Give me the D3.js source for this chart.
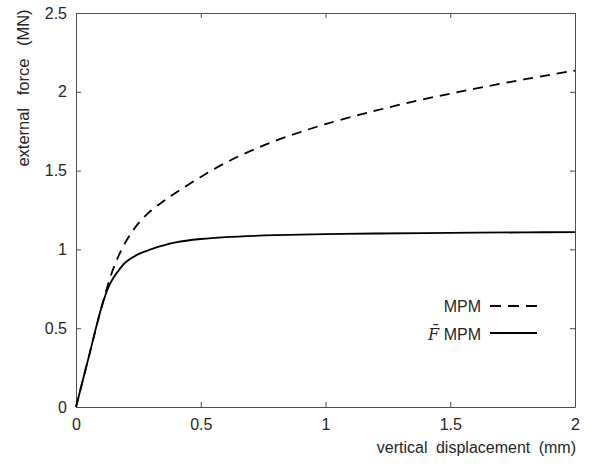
<!DOCTYPE html>
<html>
<head>
<meta charset="utf-8">
<script src="https://cdn.jsdelivr.net/npm/d3@7"></script>
<style>
  body { margin: 0; background: #fff; }
  text { font-family: "Liberation Sans", Arial, sans-serif; fill: #262626; }
</style>
</head>
<body>
<div id="chart-area"></div>
<script>
// MPM (dashed)
var mpmX = [0, 0.05, 0.1, 0.15, 0.2, 0.25, 0.3, 0.35, 0.4, 0.5, 0.6, 0.7, 0.8, 0.9, 1.0, 1.2, 1.4, 1.6, 1.8, 2.0];
var mpmY = [0, 0.31, 0.62, 0.88, 1.05, 1.165, 1.245, 1.305, 1.36, 1.46, 1.55, 1.625, 1.69, 1.745, 1.795, 1.88, 1.955, 2.02, 2.08, 2.135];

// F-bar MPM (solid)
var fbarX = [0, 0.05, 0.1, 0.13, 0.15, 0.175, 0.2, 0.25, 0.3, 0.35, 0.4, 0.5, 0.6, 0.8, 1.0, 1.2, 1.5, 1.8, 2.0];
var fbarY = [0, 0.31, 0.62, 0.76, 0.82, 0.875, 0.92, 0.97, 1.0, 1.025, 1.045, 1.066, 1.078, 1.09, 1.097, 1.101, 1.105, 1.108, 1.11];

var xTicks = [0, 0.5, 1, 1.5, 2];
var yTicks = [0, 0.5, 1, 1.5, 2, 2.5];

var margin = {left: 76, right: 26, top: 13, bottom: 61};
var width = 601 - margin.left - margin.right;
var height = 468 - margin.top - margin.bottom;

var xScale = d3.scaleLinear().domain([0, 2]).range([0, width]);
var yScale = d3.scaleLinear().domain([0, 2.5]).range([height, 0]);

var svg = d3.select("#chart-area")
  .append("svg")
  .attr("width", 601)
  .attr("height", 468)
  .append("g")
  .attr("transform", "translate(" + margin.left + ", " + margin.top + ")");

// box + inward ticks on all sides
var fmt = (d) => d3.format("")(d);

svg.append("g")
  .attr("transform", "translate(0," + height + ")")
  .call(d3.axisBottom(xScale).tickValues(xTicks).tickSizeInner(-5).tickSizeOuter(0).tickPadding(12).tickFormat(fmt));

svg.append("g")
  .call(d3.axisTop(xScale).tickValues(xTicks).tickSizeInner(-5).tickSizeOuter(0).tickFormat(""));

svg.append("g")
  .call(d3.axisLeft(yScale).tickValues(yTicks).tickSizeInner(-5).tickSizeOuter(0).tickPadding(9).tickFormat(fmt));

svg.append("g")
  .attr("transform", "translate(" + width + ",0)")
  .call(d3.axisRight(yScale).tickValues(yTicks).tickSizeInner(-5).tickSizeOuter(0).tickFormat(""));

svg.selectAll(".domain").attr("stroke", "#4d4d4d").attr("stroke-width", 1);
svg.selectAll(".tick line").attr("stroke", "#4d4d4d");
svg.selectAll(".tick text")
  .style("font-size", "16px")
  .style("font-family", "Liberation Sans, Arial, sans-serif")
  .attr("fill", "#262626");

// axis labels
svg.append("text")
  .attr("x", width + 1)
  .attr("y", height + 46)
  .attr("text-anchor", "end")
  .attr("font-size", "16px")
  .attr("word-spacing", "4px")
  .text("vertical displacement (mm)");

svg.append("text")
  .attr("transform", "rotate(-90)")
  .attr("x", -75)
  .attr("y", -47)
  .attr("text-anchor", "middle")
  .attr("font-size", "16.5px")
  .attr("word-spacing", "8px")
  .text("external force (MN)");

// lines
var line = d3.line()
  .x((d) => xScale(d[0]))
  .y((d) => yScale(d[1]))
  .curve(d3.curveCatmullRom.alpha(0.5));

var mpm = mpmX.map((x, i) => [x, mpmY[i]]);
var fbar = fbarX.map((x, i) => [x, fbarY[i]]);

svg.append("path")
  .datum(mpm)
  .attr("d", line)
  .attr("fill", "none")
  .attr("stroke", "#000")
  .attr("stroke-width", 1.8)
  .attr("stroke-dasharray", "10,7");

svg.append("path")
  .datum(fbar)
  .attr("d", line)
  .attr("fill", "none")
  .attr("stroke", "#000")
  .attr("stroke-width", 1.8);

// legend
var legend = svg.append("g")
  .attr("transform", "translate(" + (490 - margin.left) + "," + (306 - margin.top) + ")");

legend.append("line")
  .attr("x1", 0).attr("x2", 47).attr("y1", 0).attr("y2", 0)
  .attr("stroke", "#000").attr("stroke-width", 1.8)
  .attr("stroke-dasharray", "11,7");

legend.append("text")
  .attr("x", -9).attr("y", 6)
  .attr("text-anchor", "end")
  .attr("font-size", "16px")
  .text("MPM");

legend.append("line")
  .attr("x1", 0).attr("x2", 47).attr("y1", 27).attr("y2", 27)
  .attr("stroke", "#000").attr("stroke-width", 1.8);

var fLabel = legend.append("text")
  .attr("x", -9).attr("y", 34)
  .attr("text-anchor", "end")
  .attr("font-size", "16px");

fLabel.append("tspan")
  .attr("font-family", "DejaVu Serif, serif")
  .attr("font-style", "italic")
  .text("F\u0304");

fLabel.append("tspan")
  .text(" MPM");
</script>
</body>
</html>
